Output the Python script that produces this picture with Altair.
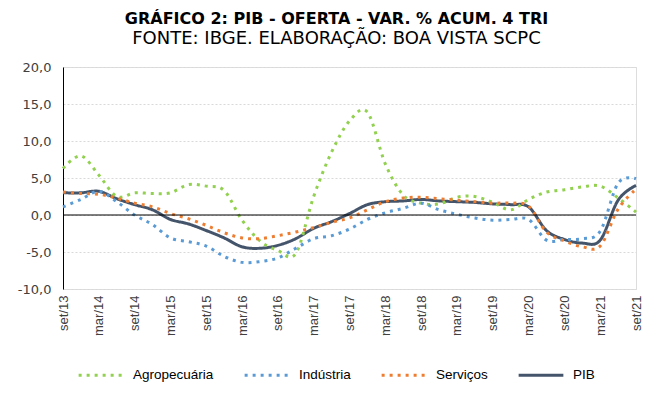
import altair as alt
import pandas as pd

quarters = ["set/13","dez/13","mar/14","jun/14","set/14","dez/14","mar/15","jun/15",
            "set/15","dez/15","mar/16","jun/16","set/16","dez/16","mar/17","jun/17",
            "set/17","dez/17","mar/18","jun/18","set/18","dez/18","mar/19","jun/19",
            "set/19","dez/19","mar/20","jun/20","set/20","dez/20","mar/21","jun/21","set/21"]
tick_labels = quarters[::2]
y_ticks = [-10, -5, 0, 5, 10, 15, 20]

agro = [6.3, 8.0, 5.4, 2.5, 3.0, 2.9, 3.0, 4.1, 3.9, 3.3, -0.7, -3.5, -4.8, -5.2, 2.5, 8.5,
        12.7, 13.9, 6.9, 2.7, 1.6, 1.5, 2.4, 2.5, 1.7, 0.7, 2.1, 3.1, 3.4, 3.8, 3.9, 2.3, 0.4]
industria = [1.1, 2.1, 3.2, 1.8, 0.0, -1.3, -3.1, -3.6, -4.2, -5.6, -6.4, -6.3, -5.8, -4.5, -3.2, -2.8,
             -1.9, -0.6, 0.3, 0.9, 1.6, 0.7, 0.1, -0.4, -0.7, -0.6, -0.6, -3.4, -3.3, -3.2, -2.2, 4.3, 4.9]
servicos = [3.1, 2.9, 2.8, 2.3, 1.6, 1.1, 0.2, -0.5, -1.4, -2.4, -3.1, -3.2, -2.8, -2.3, -1.7, -1.0,
            -0.4, 0.7, 1.8, 2.3, 2.4, 2.2, 2.0, 1.8, 1.6, 1.6, 1.2, -2.3, -3.5, -4.3, -4.2, 0.8, 3.5]
pib = [3.0, 3.0, 3.2, 2.2, 1.4, 0.7, -0.6, -1.2, -2.1, -3.1, -4.3, -4.5, -4.1, -3.2, -1.8, -0.9,
       0.2, 1.4, 1.8, 1.9, 2.1, 1.9, 1.8, 1.7, 1.5, 1.4, 1.1, -2.1, -3.3, -3.8, -3.4, 2.0, 4.0]

series_names = ["Agropecuária", "Indústria", "Serviços", "PIB"]
series_colors = ["#92D050", "#5B9BD5", "#ED7D31", "#44546A"]
series_dash = [[3, 5], [3, 5], [3, 5], [1, 0]]
series_width = [3, 3, 3, 4]

rows = []
for name, vals in zip(series_names, [agro, industria, servicos, pib]):
    for q, v in zip(quarters, vals):
        rows.append({"tri": q, "serie": name, "valor": v})
df = pd.DataFrame(rows)

FONT = "DejaVu Sans"
XFONT = "Liberation Sans"

y_axis = alt.Axis(values=y_ticks, title=None,
                  labelExpr="(datum.value < 0 ? '-' : '') + replace(format(abs(datum.value), '.1f'), '.', ',')",
                  labelFont=FONT, labelFontSize=13, labelColor="#404040",
                  labelPadding=12, ticks=False, domain=True, domainColor="#000000",
                  domainWidth=1, grid=True, gridColor="#D9D9D9", gridDash=[2, 2],
                  gridWidth=1, labelOverlap=False)
y_scale = alt.Scale(domain=[-10, 20], nice=False)

x_enc = alt.X("tri:O", sort=quarters, scale=alt.Scale(type="point", padding=0),
              axis=alt.Axis(values=tick_labels, labelAngle=-90, title=None, domain=False,
                            ticks=False, grid=False, labelFont=XFONT, labelFontSize=13,
                            labelColor="#404040", labelPadding=6, labelAlign="right",
                            labelBaseline="middle", labelOverlap=False))
y_enc = alt.Y("valor:Q", scale=y_scale, axis=y_axis)

color_enc = alt.Color("serie:N", scale=alt.Scale(domain=series_names, range=series_colors),
                      legend=alt.Legend(title=None, orient="none", direction="horizontal",
                                        legendX=14, legendY=284, symbolType="stroke",
                                        symbolSize=2000, labelFont=XFONT, labelFontSize=13.5,
                                        labelColor="#000000", columnPadding=24, labelOffset=8))
dash_enc = alt.StrokeDash("serie:N", scale=alt.Scale(domain=series_names, range=series_dash),
                          legend=None)
width_enc = alt.StrokeWidth("serie:N", scale=alt.Scale(domain=series_names, range=series_width),
                            legend=None)

base = alt.Chart(df)

pib_line = base.transform_filter(alt.datum.serie == "PIB").mark_line(
    interpolate="cardinal").encode(x=x_enc, y=y_enc, color=color_enc,
                                    strokeDash=dash_enc, strokeWidth=width_enc)
dotted = base.transform_filter(alt.datum.serie != "PIB").mark_line(
    interpolate="cardinal").encode(x=x_enc, y=y_enc, color=color_enc,
                                    strokeDash=dash_enc, strokeWidth=width_enc,
                                    detail="serie:N")
zero = alt.Chart(pd.DataFrame({"valor": [0]})).mark_rule(color="#000000", strokeWidth=1.2).encode(
    y=alt.Y("valor:Q", scale=y_scale, axis=y_axis))

chart = alt.layer(pib_line, dotted, zero).properties(
    width=573, height=222,
    autosize=alt.AutoSizeParams(type="none"),
    padding={"left": 55, "top": 59, "right": 24, "bottom": 95},
    title=alt.TitleParams(text="GRÁFICO 2: PIB - OFERTA - VAR. % ACUM. 4 TRI",
                          subtitle="FONTE: IBGE. ELABORAÇÃO: BOA VISTA SCPC",
                          font=FONT, fontSize=16, fontWeight="bold", color="#000000",
                          subtitleFont=FONT, subtitleFontSize=18, subtitleFontWeight="normal",
                          subtitleColor="#000000", subtitlePadding=3, anchor="middle",
                          dx=-13, offset=13)
).configure_view(stroke=None).configure(background="#FFFFFF")

chart.save("out.html", embed_options={"renderer": "svg", "actions": False})
